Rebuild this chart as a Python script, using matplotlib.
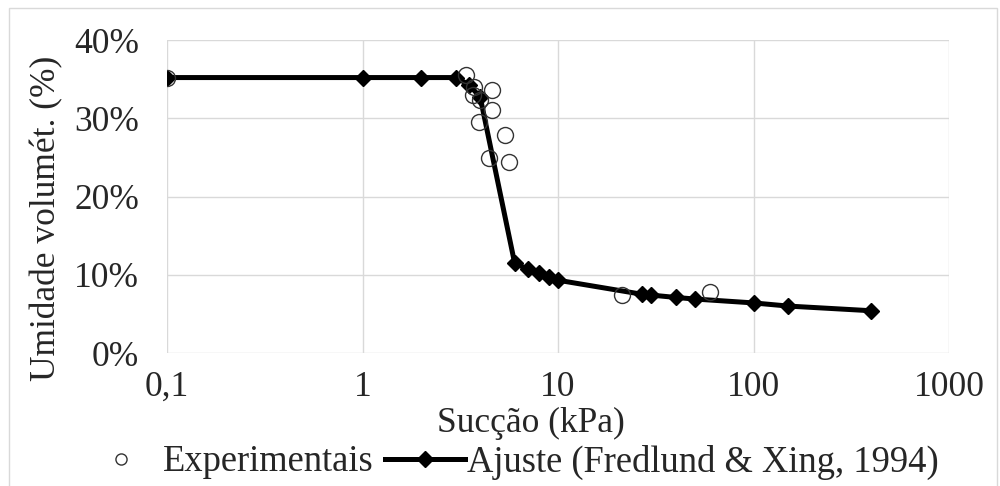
import matplotlib
matplotlib.use("Agg")
import matplotlib.pyplot as plt
from matplotlib.lines import Line2D
from matplotlib.patches import Rectangle
from matplotlib.ticker import FixedLocator, FixedFormatter, NullLocator

plt.rcParams['font.family'] = ['Liberation Serif', 'DejaVu Serif']

# experimental points: suction (kPa) and volumetric water content (%)
exp_suction = [0.1, 3.4, 3.72, 4.58, 3.67, 3.98, 4.58, 3.94, 5.34, 4.42, 5.6, 21.3, 60.0]
exp_theta = [35.2, 35.5, 34.0, 33.6, 33.0, 32.3, 31.0, 29.5, 27.8, 24.9, 24.4, 7.4, 7.8]

# fitted curve (Fredlund & Xing, 1994)
fit_suction = [0.1, 1, 2, 3, 3.5, 4, 6, 7, 8, 9, 10, 27, 30, 40, 50, 100, 150, 400]
fit_theta = [35.2, 35.2, 35.2, 35.2, 34.3, 32.7, 11.5, 10.7, 10.2, 9.7, 9.3,
             7.5, 7.4, 7.1, 6.9, 6.4, 6.0, 5.4]

x_ticks = [0.1, 1, 10, 100, 1000]
x_labels = ["0,1", "1", "10", "100", "1000"]
y_ticks = [0, 10, 20, 30, 40]
y_labels = ["0%", "10%", "20%", "30%", "40%"]

GRID = "#d9d9d9"
TEXT = "#262626"
FS = 25.5

fig = plt.figure(figsize=(10, 4.86), dpi=100, facecolor="white")
ax = fig.add_axes([0.167, 1 - 353 / 486, 0.782, (353 - 40) / 486])

ax.plot(fit_suction, fit_theta, color="black", lw=3.6, marker="D",
        markersize=8, zorder=3)
ax.plot(exp_suction, exp_theta, ls="none", marker="o", markersize=11.5,
        markerfacecolor="none", markeredgecolor="#333333", markeredgewidth=1.0,
        zorder=4)

ax.set_xscale("log")
ax.set_xlim(0.1, 1000)
ax.set_ylim(0, 40)
ax.xaxis.set_major_locator(FixedLocator(x_ticks))
ax.xaxis.set_major_formatter(FixedFormatter(x_labels))
ax.xaxis.set_minor_locator(NullLocator())
ax.yaxis.set_major_locator(FixedLocator(y_ticks))
ax.yaxis.set_major_formatter(FixedFormatter(y_labels))
ax.tick_params(axis="both", length=0, labelsize=FS, colors=TEXT)
ax.tick_params(axis="y", pad=20)
ax.tick_params(axis="x", pad=13)
ax.grid(True, color=GRID, lw=1.0)
for s in ax.spines.values():
    s.set_visible(False)
ax.set_axisbelow(True)

fig.text(0.531, 1 - 423 / 486, "Sucção (kPa)", ha="center", va="center",
         fontsize=FS, color=TEXT)
fig.text(0.047, 1 - 218 / 486, "Umidade volumét. (%)", ha="center",
         va="center", rotation=90, fontsize=FS, color=TEXT)

# legend proxies (smaller circle as in the original)
h_exp = Line2D([], [], ls="none", marker="o", markersize=8,
               markerfacecolor="none", markeredgecolor="#333333",
               markeredgewidth=1.0)
h_fit = Line2D([], [], color="black", lw=3.6, marker="D", markersize=8)
fig.legend([h_exp, h_fit], ["Experimentais", "Ajuste (Fredlund & Xing, 1994)"],
           loc="center", ncol=2, bbox_to_anchor=(0.51, 1 - 462 / 486),
           frameon=False, fontsize=26.3, handlelength=2.2, handletextpad=0.05,
           columnspacing=0.3, labelcolor=TEXT, borderpad=0.1)

# outer chart border
fig.patches.append(Rectangle((9 / 1000, -0.02), (997 - 9) / 1000, 1 - 8 / 486 + 0.02,
                             transform=fig.transFigure, fill=False,
                             edgecolor=GRID, lw=1.0))

fig.savefig("out.png", dpi=100, facecolor="white")
